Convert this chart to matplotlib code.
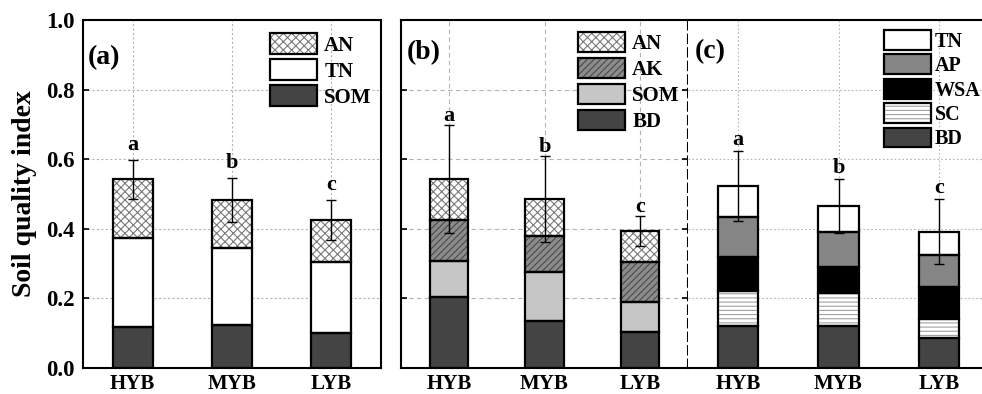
import matplotlib
matplotlib.use('Agg')
import matplotlib.pyplot as plt
from matplotlib.patches import Patch
import numpy as np

plt.rcParams['font.family'] = ['Liberation Serif', 'DejaVu Serif']
plt.rcParams['font.weight'] = 'bold'
plt.rcParams['hatch.linewidth'] = 0.8

categories = ['HYB', 'MYB', 'LYB']

# Panel (a)
a_SOM = [0.119, 0.124, 0.100]
a_TN = [0.254, 0.220, 0.205]
a_AN = [0.169, 0.139, 0.120]
a_err = [0.055, 0.063, 0.057]
a_letters = ['a', 'b', 'c']

# Panel (b)
b_BD = [0.205, 0.136, 0.104]
b_SOM = [0.103, 0.141, 0.087]
b_AK = [0.117, 0.103, 0.114]
b_AN = [0.118, 0.105, 0.089]
b_err = [0.155, 0.123, 0.043]
b_letters = ['a', 'b', 'c']

# Panel (c)
c_BD = [0.121, 0.121, 0.085]
c_SC = [0.100, 0.094, 0.056]
c_WSA = [0.099, 0.074, 0.093]
c_AP = [0.115, 0.101, 0.091]
c_TN = [0.088, 0.075, 0.067]
c_err = [0.101, 0.077, 0.093]
c_letters = ['a', 'b', 'c']

STY = {
    'SOM_dark': dict(fc='#444444'),
    'BD': dict(fc='#444444'),
    'TN': dict(fc='white'),
    'AN': dict(fc='white', hc='#7a7a7a', hatch='xxxx'),
    'AK': dict(fc='#8c8c8c', hc='#4a4a4a', hatch='/////'),
    'SOM_light': dict(fc='#c6c6c6'),
    'AP': dict(fc='#858585'),
    'WSA': dict(fc='black'),
    'SC': dict(fc='white', hc='#a0a0a0', hatch='----'),
}

W, H = 982, 394
fig = plt.figure(figsize=(W / 100, H / 100), dpi=100)

def px_ax(l, r):
    return fig.add_axes([l / W, 26 / H, (r - l) / W, 348 / H])

ax_a = px_ax(83, 381)
ax_b = px_ax(401, 688)
ax_c = px_ax(688, 989)

x = np.arange(len(categories))
BW = 0.4

def draw_stack(ax, layers, err, letters, letter_off):
    bottom = np.zeros(len(categories))
    for vals, key in layers:
        st = STY[key]
        vals = np.asarray(vals)
        ax.bar(x, vals, BW, bottom=bottom, color=st['fc'],
               edgecolor=st.get('hc', st['fc']), hatch=st.get('hatch'),
               lw=0, zorder=2)
        ax.bar(x, vals, BW, bottom=bottom, fill=False, edgecolor='black',
               lw=1.6, zorder=3)
        bottom = bottom + vals
    ax.errorbar(x, bottom, yerr=err, fmt='none', ecolor='black',
                elinewidth=1.0, capsize=3.5, capthick=1.0, zorder=4)
    for xi, top, e, lt in zip(x, bottom, err, letters):
        ax.text(xi, top + e + letter_off, lt, ha='center', va='baseline',
                fontsize=16, fontweight='bold', zorder=5)

def legend_handle(key):
    st = STY[key]
    p1 = Patch(facecolor=st['fc'], edgecolor=st.get('hc', st['fc']),
               hatch=st.get('hatch'), lw=0)
    p2 = Patch(fill=False, edgecolor='black', lw=1.6)
    return (p1, p2)

def add_legend(ax, keys, labels, left, top, spacing, fs, hh, pad):
    leg = ax.legend([legend_handle(k) for k in keys], labels,
                    loc='upper left',
                    bbox_to_anchor=(left / W, 1 - top / H),
                    bbox_transform=fig.transFigure,
                    frameon=False, borderpad=0, borderaxespad=0,
                    handlelength=2.25 * 15 / fs, handleheight=hh,
                    labelspacing=spacing, handletextpad=pad,
                    prop=dict(weight='bold', size=fs))
    return leg

draw_stack(ax_a, [(a_SOM, 'SOM_dark'), (a_TN, 'TN'), (a_AN, 'AN')],
           a_err, a_letters, 0.03)
draw_stack(ax_b, [(b_BD, 'BD'), (b_SOM, 'SOM_light'), (b_AK, 'AK'), (b_AN, 'AN')],
           b_err, b_letters, 0.012)
draw_stack(ax_c, [(c_BD, 'BD'), (c_SC, 'SC'), (c_WSA, 'WSA'), (c_AP, 'AP'), (c_TN, 'TN')],
           c_err, c_letters, 0.018)

add_legend(ax_a, ['AN', 'TN', 'SOM_dark'], ['AN', 'TN', 'SOM'], 270, 33, 0.16, 15, 1.2, 0.35)
add_legend(ax_b, ['AN', 'AK', 'SOM_light', 'BD'], ['AN', 'AK', 'SOM', 'BD'], 578, 32, 0.18, 15, 1.12, 0.35)
add_legend(ax_c, ['TN', 'AP', 'WSA', 'SC', 'BD'], ['TN', 'AP', 'WSA', 'SC', 'BD'], 884, 30, 0.14, 14.5, 1.12, 0.2)

yt = np.arange(0, 1.01, 0.2)
for ax, gls in [(ax_a, (0, (2, 2))), (ax_b, (0, (4, 3))), (ax_c, (0, (1.5, 2)))]:
    ax.set_xlim(-0.5, 2.5)
    ax.set_ylim(0, 1.0)
    ax.set_xticks(x)
    ax.set_xticklabels(categories, fontsize=15, fontweight='bold')
    ax.set_yticks(yt)
    ax.grid(True, color='#b4b4b4', linestyle=gls, lw=0.8)
    ax.set_axisbelow(True)
    ax.tick_params(axis='both', direction='in', length=4.5, width=1.2)
    ax.tick_params(axis='x', pad=4)
    ax.tick_params(axis='y', pad=6, labelsize=16.5)
    for s in ax.spines.values():
        s.set_linewidth(1.5)

ax_a.set_yticklabels(['%.1f' % v for v in yt], fontweight='bold')
ax_a.set_ylabel('Soil quality index', fontsize=20, fontweight='bold')
ax_a.yaxis.set_label_coords(-0.155, 0.5)

ax_b.tick_params(axis='y', labelleft=False, right=True)
ax_b.spines['right'].set_linestyle((0, (4, 2.5)))
ax_c.spines['left'].set_visible(False)
ax_c.tick_params(axis='y', left=False, labelleft=False)

ax_a.text(0.017, 0.891, '(a)', transform=ax_a.transAxes, ha='left', va='center',
          fontsize=20, fontweight='bold')
ax_b.text(0.021, 0.905, '(b)', transform=ax_b.transAxes, ha='left', va='center',
          fontsize=20, fontweight='bold')
ax_c.text(0.023, 0.908, '(c)', transform=ax_c.transAxes, ha='left', va='center',
          fontsize=20, fontweight='bold')

fig.savefig('out.png', dpi=100)
